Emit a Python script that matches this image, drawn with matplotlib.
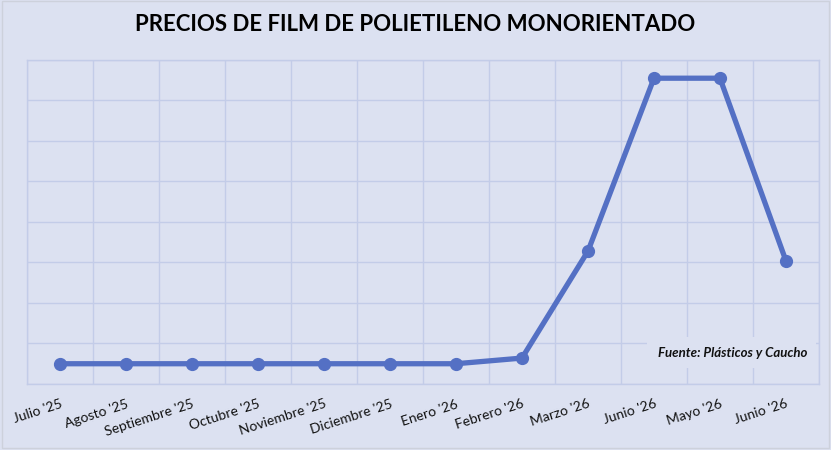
import matplotlib
matplotlib.use("Agg")
import matplotlib.pyplot as plt
from matplotlib.patches import Rectangle
import numpy as np

months = ["Julio '25", "Agosto '25", "Septiembre '25", "Octubre '25", "Noviembre '25",
          "Diciembre '25", "Enero '26", "Febrero '26", "Marzo '26", "Junio '26",
          "Mayo '26", "Junio '26"]
prices = [0.5, 0.5, 0.5, 0.5, 0.5, 0.5, 0.5, 0.64, 3.28, 7.55, 7.55, 3.04]

title = "PRECIOS DE FILM DE POLIETILENO MONORIENTADO"
source = "Fuente: Plásticos y Caucho"

bg = "#DCE1F1"
grid_c = "#C3CCE8"
line_c = "#5470C4"

plt.rcParams['font.family'] = ['Lato', 'DejaVu Sans']

fig = plt.figure(figsize=(8.31, 4.5), dpi=100, facecolor=bg)
ax = fig.add_axes([0.0325, 0.1467, 0.953, 0.72])
ax.set_facecolor(bg)

x = np.arange(len(months))
ax.plot(x, prices, color=line_c, lw=3.8, marker='o', ms=8.5, zorder=3,
        solid_capstyle='round')

ax.set_xlim(-0.5, len(months) - 0.5)
ax.set_ylim(0, 8)
ax.set_xticks(x)
ax.set_xticklabels(months, rotation=18, ha='right', rotation_mode='anchor',
                   fontsize=10, color='#111111')
ax.set_xticks(np.arange(-0.5, len(months), 1), minor=True)
ax.set_yticks(np.arange(0, 9, 1))
ax.set_yticklabels([])
ax.tick_params(axis='both', which='both', length=0)
ax.tick_params(axis='x', pad=10)
ax.grid(True, which='minor', axis='x', color=grid_c, lw=1.0)
ax.grid(True, which='major', axis='y', color=grid_c, lw=1.0)
ax.grid(False, which='major', axis='x')
for s in ax.spines.values():
    s.set_color(grid_c)
    s.set_linewidth(1.0)

# source box covering grid lines
ax.add_patch(Rectangle((0.783, 0.049), 0.213, 0.096, transform=ax.transAxes,
                       facecolor=bg, edgecolor='none', zorder=2.5))
ax.text(0.891, 0.096, source, transform=ax.transAxes, ha='center', va='center',
        fontsize=9.5, fontweight='bold', fontstyle='italic', color='#111111',
        zorder=4)

fig.text(0.5, 0.945, title, ha='center', va='center', fontsize=16,
         fontweight='bold', color='#000000')

# subtle outer border
fig.patches.append(Rectangle((0.002, 0.005), 0.996, 0.993, transform=fig.transFigure,
                             facecolor='none', edgecolor='#CDD1DC', lw=1.0))

fig.savefig("out.png", dpi=100, facecolor=bg)
